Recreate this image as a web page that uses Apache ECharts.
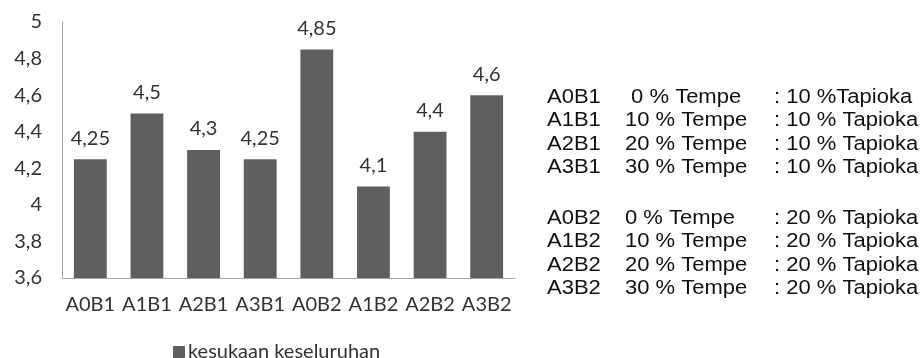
<!DOCTYPE html>
<html>
<head>
<meta charset="utf-8">
<script src="https://cdn.jsdelivr.net/npm/echarts@6/dist/echarts.min.js"></script>
<style>
  html, body { margin: 0; padding: 0; background: #fff; }
  #chart { width: 920px; height: 358px; }
</style>
</head>
<body>
<div id="chart"></div>
<script>
// Treatment codes and overall liking scores
const categories = ['A0B1', 'A1B1', 'A2B1', 'A3B1', 'A0B2', 'A1B2', 'A2B2', 'A3B2'];
const scores = [4.25, 4.5, 4.3, 4.25, 4.85, 4.1, 4.4, 4.6];
const seriesName = 'kesukaan keseluruhan';

// Key of treatment compositions
const keyCodes = ['A0B1', 'A1B1', 'A2B1', 'A3B1', 'A0B2', 'A1B2', 'A2B2', 'A3B2'];
const keyTempe = [' 0 % Tempe', '10 % Tempe', '20 % Tempe', '30 % Tempe',
                  '0 % Tempe', '10 % Tempe', '20 % Tempe', '30 % Tempe'];
const keyTapioka = [': 10 %Tapioka', ': 10 % Tapioka', ': 10 % Tapioka', ': 10 % Tapioka',
                    ': 20 % Tapioka', ': 20 % Tapioka', ': 20 % Tapioka', ': 20 % Tapioka'];

const comma = v => String(+v.toFixed(2)).replace('.', ',');
const chartFont = 'Lato';
const chartFontSize = 20;
const textColor = '#333333';
const barColor = '#5f5f5f';
const axisColor = '#a6a6a6';

// Key text, laid out in two groups of four rows
const keyRowY = [97, 120.5, 144, 167.5, 218, 241.5, 265, 288.5];
const keyCols = [547, 625, 774];
const keyGraphics = [];
keyCodes.forEach((code, i) => {
  [code, keyTempe[i], keyTapioka[i]].forEach((txt, c) => {
    keyGraphics.push({
      type: 'text',
      x: keyCols[c],
      y: keyRowY[i],
      scaleX: 1.1,
      style: {
        text: txt,
        x: 0, y: 0,
        font: '20px "Liberation Sans", Arial, sans-serif',
        fill: '#111',
        textVerticalAlign: 'middle',
        verticalAlign: 'middle'
      }
    });
  });
});

const chart = echarts.init(document.getElementById('chart'), null, { renderer: 'canvas' });
chart.setOption({
  animation: false,
  backgroundColor: '#fff',
  grid: { left: 62, right: 405, top: 22, bottom: 80, containLabel: false },
  legend: {
    data: [seriesName],
    left: 168,
    top: 337,
    itemWidth: 12,
    itemHeight: 12,
    itemGap: 6,
    icon: 'rect',
    textStyle: { fontFamily: chartFont, fontSize: chartFontSize, color: textColor, padding: [0, 0, 0, -2] }
  },
  xAxis: {
    type: 'category',
    data: categories,
    axisLine: { lineStyle: { color: axisColor, width: 1 } },
    axisTick: { show: false },
    axisLabel: { fontFamily: chartFont, fontSize: chartFontSize, color: textColor, margin: 17, interval: 0 }
  },
  yAxis: {
    type: 'value',
    min: 3.6,
    max: 5,
    interval: 0.2,
    axisLine: { show: true, lineStyle: { color: axisColor, width: 1 } },
    axisTick: { show: false },
    splitLine: { show: false },
    axisLabel: {
      fontFamily: chartFont, fontSize: chartFontSize, color: textColor, margin: 20,
      formatter: v => comma(v)
    }
  },
  series: [{
    name: seriesName,
    type: 'bar',
    data: scores,
    barWidth: '58%',
    itemStyle: { color: barColor },
    label: {
      show: true,
      position: 'top',
      distance: 11,
      fontFamily: chartFont,
      fontSize: chartFontSize,
      color: textColor,
      formatter: p => comma(p.value)
    }
  }],
  graphic: keyGraphics
});
</script>
</body>
</html>
